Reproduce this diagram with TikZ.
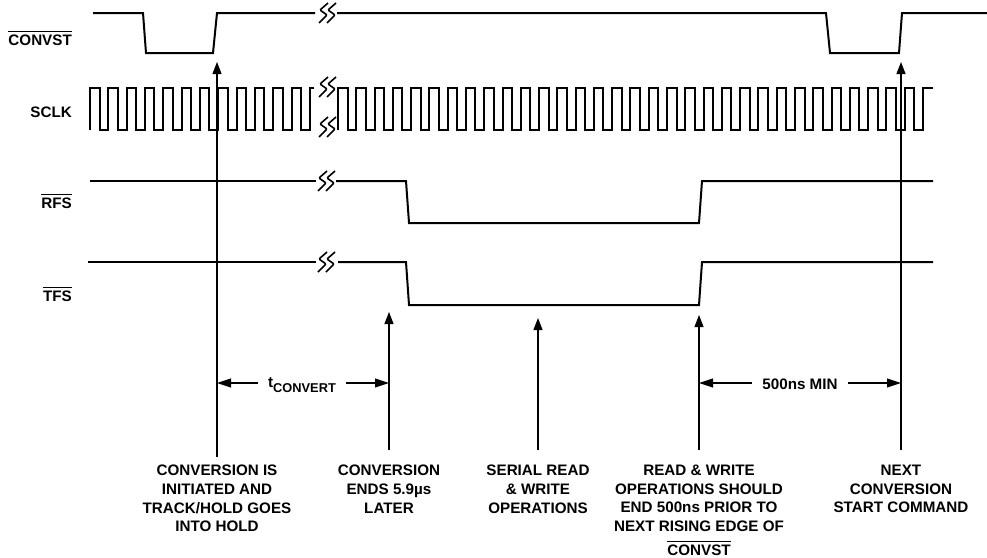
\documentclass[tikz,border=0pt]{standalone}
\usepackage{fontspec}
\setmainfont{Liberation Sans}
\usepackage{tikz}
\usetikzlibrary{arrows.meta}
\tikzstyle{wave} = [line width=2pt, line join=miter, black]
\tikzstyle{brkline} = [line width=1.6pt, rounded corners=1pt, black]
\tikzstyle{sigarrow} = [line width=1.1pt, -{Triangle[length=12pt,width=9pt]}]
\tikzstyle{dimarrow} = [line width=1.1pt, -{Triangle[length=14pt,width=9pt]}]
\tikzstyle{siglabel} = [font=\fontsize{15.2}{18.6}\selectfont\bfseries, inner sep=0pt]
\tikzstyle{note} = [font=\fontsize{15.2}{18.6}\selectfont\bfseries, align=center, inner sep=0pt, anchor=north]
\tikzstyle{dimtext} = [font=\fontsize{15.2}{18.6}\selectfont\bfseries, inner ysep=0pt, inner xsep=10pt, anchor=base]
\newcommand{\ovl}[1]{\leavevmode\vbox{\hrule height 1.2pt\kern 2.4pt\hbox{#1}}}
% break mark: two small zigzags
\newcommand{\brkmark}[2]{%
  \draw[brkline] (#1+9,#2-10) -- (#1+1,#2-3) -- (#1+8,#2+2) -- (#1,#2+10);
  \draw[brkline] (#1+17,#2-10) -- (#1+9,#2-3) -- (#1+16,#2+2) -- (#1+8,#2+10);}

\begin{document}
\begin{tikzpicture}[x=1pt, y=-1pt]
\useasboundingbox (0,0) rectangle (987,557);

% Signal names
\node (lblconvst) [siglabel, anchor=base east] at (72,45) {\ovl{CONVST}};
\node (lblsclk) [siglabel, anchor=base east] at (72,117) {SCLK};
\node (lblrfs) [siglabel, anchor=base east] at (72,208.5) {\ovl{RFS}};
\node (lbltfs) [siglabel, anchor=base east] at (72,301.5) {\ovl{TFS}};

% CONVST
\draw[wave] (93,13) -- (143,13) -- (146,53) -- (213,53) -- (217,13) -- (315,13);
\draw[wave] (337,13) -- (826,13) -- (830,53) -- (899,53) -- (902,13) -- (987,13);
\brkmark{319}{13}

% SCLK
\draw[wave] (90,130) \foreach \k in {0,...,11} { -- ++(0,-42) -- ++(9.5,0) -- ++(0,42) -- ++(8.83,0) } -- ++(0,-42) -- ++(4,0);
\draw[wave] (338,130) \foreach \k in {0,...,31} { -- ++(0,-42) -- ++(9.5,0) -- ++(0,42) -- ++(8.78,0) } -- ++(0,-42) -- ++(10,0);
\brkmark{319}{87}
\brkmark{319}{127}

% RFS
\draw[wave] (90,181) -- (316,181);
\draw[wave] (336,181) -- (406,181) -- (409,223) -- (699,223) -- (702,181) -- (933,181);
\brkmark{318}{181}

% TFS
\draw[wave] (88,262) -- (316,262);
\draw[wave] (338,262) -- (406,262) -- (409,305) -- (699,305) -- (702,262) -- (933,262);
\brkmark{318}{262}

% Notes
\node (notehold) [note] at (217,465) {CONVERSION IS\\INITIATED AND\\TRACK/HOLD GOES\\INTO HOLD};
\node (noteend) [note] at (389,465) {CONVERSION\\ENDS 5.9µs\\LATER};
\node (noteserial) [note] at (538,465) {SERIAL READ\\\& WRITE\\OPERATIONS};
\node (noterw) [note] at (699,465) {READ \& WRITE\\OPERATIONS SHOULD\\END 500ns PRIOR TO\\NEXT RISING EDGE OF\\[5pt]\ovl{CONVST}};
\node (notenext) [note] at (901,465) {NEXT\\CONVERSION\\START COMMAND};

% Arrow tips
\coordinate (tiphold) at (217,62);
\coordinate (tipend) at (389,312);
\coordinate (tipserial) at (538,318);
\coordinate (tiprw) at (699,315);
\coordinate (tipnext) at (901,62);

\draw[sigarrow, shorten <=8pt] (notehold.north) -- (tiphold);
\draw[sigarrow, shorten <=15pt] (noteend.north) -- (tipend);
\draw[sigarrow, shorten <=15pt] (noteserial.north) -- (tipserial);
\draw[sigarrow, shorten <=15pt] (noterw.north) -- (tiprw);
\draw[sigarrow, shorten <=15pt] (notenext.north) -- (tipnext);

% Timing dimensions
\node (tconv) [dimtext] at (302,387) {t\raisebox{-5pt}{\fontsize{12.8}{14}\selectfont CONVERT}};
\node (tmin) [dimtext] at (800,389) {500ns MIN};
\coordinate (dimholdL) at (217,383);
\coordinate (dimendR) at (389,383);
\coordinate (dimrwL) at (699,383);
\coordinate (dimnextR) at (901,383);
\draw[dimarrow] (tconv.west |- dimholdL) -- (dimholdL);
\draw[dimarrow] (tconv.east |- dimendR) -- (dimendR);
\draw[dimarrow] (tmin.west |- dimrwL) -- (dimrwL);
\draw[dimarrow] (tmin.east |- dimnextR) -- (dimnextR);
\end{tikzpicture}
\end{document}
